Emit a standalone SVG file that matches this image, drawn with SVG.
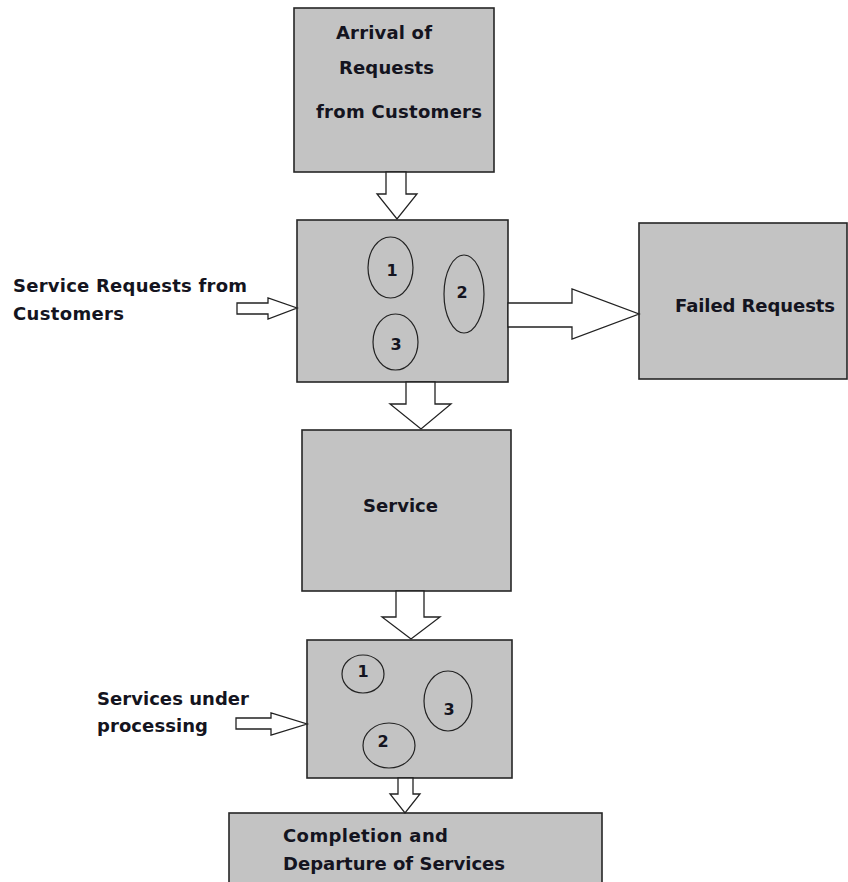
<svg xmlns="http://www.w3.org/2000/svg" width="848" height="882" viewBox="0 0 848 882">
<style>
.box{fill:#c3c3c3;stroke:#262626;stroke-width:1.6}
.oval{fill:none;stroke:#222;stroke-width:1.2}
.arrow{fill:#fff;stroke:#222;stroke-width:1.3;stroke-linejoin:miter}
text{font-family:"DejaVu Sans","Liberation Sans",Arial,sans-serif;font-weight:bold;font-size:18px;fill:#141420}
.num{font-size:16px;text-anchor:middle}
</style>
<rect width="848" height="882" fill="#fff"/>
<g id="arrival">
<rect class="box" x="294" y="8" width="200" height="164"/>
<text x="336" y="39" textLength="96">Arrival of</text>
<text x="339" y="74" textLength="95">Requests</text>
<text x="316" y="118" textLength="166">from Customers</text>
</g>
<g id="queue">
<rect class="box" x="297" y="220" width="211" height="162"/>
<ellipse class="oval" cx="390.5" cy="267.5" rx="22.5" ry="30.5"/>
<ellipse class="oval" cx="464" cy="294" rx="20" ry="39"/>
<ellipse class="oval" cx="395.5" cy="342" rx="22.5" ry="28"/>
<text class="num" x="392" y="276">1</text>
<text class="num" x="462" y="298">2</text>
<text class="num" x="396" y="350">3</text>
</g>
<g id="service-requests-label">
<text x="13" y="292" textLength="234">Service Requests from</text>
<text x="13" y="320" textLength="111">Customers</text>
</g>
<g id="failed">
<rect class="box" x="639" y="223" width="208" height="156"/>
<text x="675" y="312" textLength="160">Failed Requests</text>
</g>
<g id="service">
<rect class="box" x="302" y="430" width="209" height="161"/>
<text x="363" y="512" textLength="75">Service</text>
</g>
<g id="processing">
<rect class="box" x="307" y="640" width="205" height="138"/>
<ellipse class="oval" cx="363" cy="674" rx="21" ry="19"/>
<ellipse class="oval" cx="448" cy="701" rx="24" ry="30"/>
<ellipse class="oval" cx="389" cy="745.5" rx="26" ry="22.5"/>
<text class="num" x="363" y="677">1</text>
<text class="num" x="449" y="715">3</text>
<text class="num" x="383" y="747">2</text>
</g>
<g id="services-under-processing-label">
<text x="97" y="705" textLength="152">Services under</text>
<text x="97" y="732" textLength="111">processing</text>
</g>
<g id="completion">
<rect class="box" x="229" y="813" width="373" height="80"/>
<text x="283" y="842" textLength="165">Completion and</text>
<text x="283" y="870" textLength="222">Departure of Services</text>
</g>
<g id="connectors">
<polygon class="arrow" points="386,172 406,172 406,194 417,194 397,219 377,194 386,194"/>
<polygon class="arrow" points="237,303 268,303 268,298 297,308 268,319 268,314 237,314"/>
<polygon class="arrow" points="508,303 572,303 572,289 639,314 572,339 572,327 508,327"/>
<polygon class="arrow" points="406,382 435,382 435,404 451,404 421,429 390,404 406,404"/>
<polygon class="arrow" points="396,591 424,591 424,617 440,617 411,639 382,617 396,617"/>
<polygon class="arrow" points="236,718 271,718 271,713 307,724 271,735 271,729 236,729"/>
<polygon class="arrow" points="398,778 413,778 413,794 420,794 405,813 390,794 398,794"/>
</g>
</svg>
